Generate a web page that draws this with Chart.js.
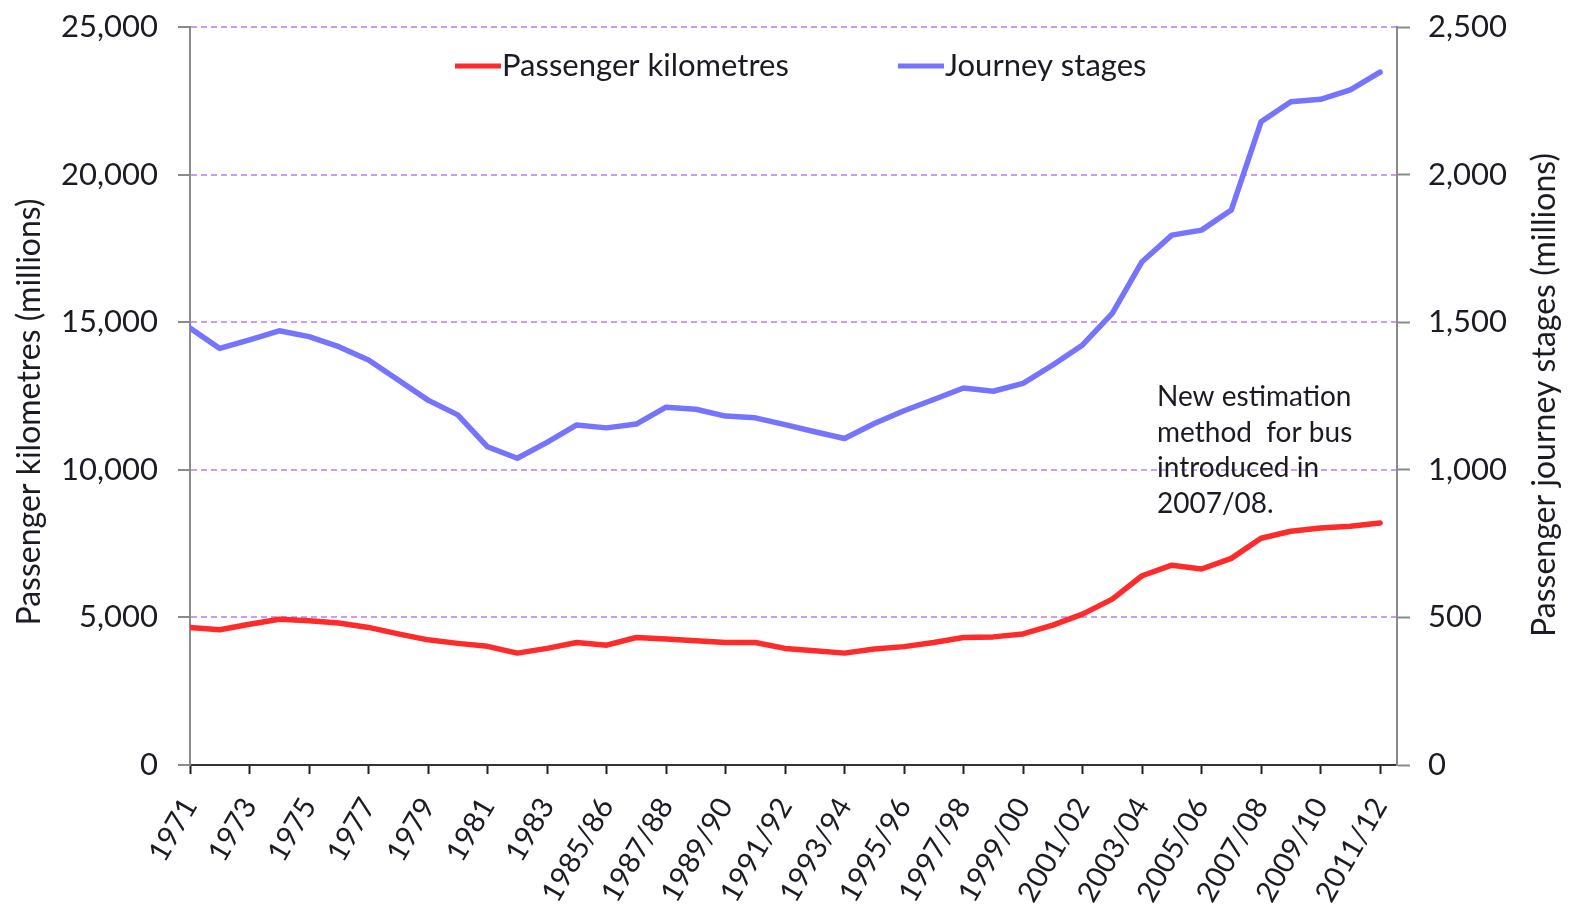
<!DOCTYPE html>
<html>
<head>
<meta charset="utf-8">
<script src="https://cdn.jsdelivr.net/npm/chart.js@4"></script>
<style>
  html, body { margin: 0; padding: 0; background: #fff; }
  #wrap { width: 1571px; height: 914px; }
</style>
</head>
<body>
<div id="wrap"><canvas id="c" width="1571" height="914"></canvas></div>
<script>
"use strict";

/* bus passenger kilometres and journey stages, 1971 to 2011/12 */
const years = ["1971", "1972", "1973", "1974", "1975", "1976", "1977", "1978",
  "1979", "1980", "1981", "1982", "1983", "1984", "1985/86", "1986/87",
  "1987/88", "1988/89", "1989/90", "1990/91", "1991/92", "1992/93", "1993/94",
  "1994/95", "1995/96", "1996/97", "1997/98", "1998/99", "1999/00", "2000/01",
  "2001/02", "2002/03", "2003/04", "2004/05", "2005/06", "2006/07", "2007/08",
  "2008/09", "2009/10", "2010/11", "2011/12"];

// millions, left axis
const passengerKm = [4660, 4580, 4770, 4940, 4890, 4810, 4660, 4440, 4240,
  4120, 4020, 3790, 3950, 4150, 4060, 4320, 4270, 4210, 4150, 4150, 3950,
  3870, 3790, 3930, 4010, 4150, 4320, 4340, 4440, 4740, 5110, 5620, 6410,
  6770, 6640, 7000, 7680, 7920, 8030, 8090, 8200];

// millions, right axis
const journeyStages = [1480, 1411, 1440, 1471, 1451, 1417, 1372, 1304, 1236,
  1186, 1078, 1039, 1093, 1152, 1142, 1155, 1212, 1205, 1182, 1176, 1153,
  1129, 1106, 1157, 1200, 1238, 1277, 1266, 1293, 1355, 1423, 1530, 1705,
  1795, 1812, 1880, 2179, 2247, 2255, 2287, 2347];

const noteLines = ["New estimation", "method  for bus", "introduced in", "2007/08."];
const leftTitle = "Passenger kilometres (millions)";
const rightTitle = "Passenger journey stages (millions)";

const FONT = "Lato, 'Open Sans', sans-serif";
const INK = "#1b1b24";
const RED = "#ff2b2b", BLUE = "#7474ff";
const GRID = "#c99cf7", AXIS = "#8a8a8a";

const pts = (arr) => arr.map((v, i) => ({ x: i, y: v }));

/* legend, note and both axis titles drawn by hand, like the original */
const overlay = {
  id: "overlay",
  afterDraw(chart) {
    const c = chart.ctx;
    c.save();
    c.textBaseline = "middle";
    c.font = "31px " + FONT;
    c.fillStyle = INK;
    c.lineWidth = 5;
    const items = [[455, RED, chart.data.datasets[0].label],
                   [898, BLUE, chart.data.datasets[1].label]];
    items.forEach(([x, col, txt]) => {
      c.strokeStyle = col;
      c.beginPath(); c.moveTo(x, 66); c.lineTo(x + 46, 66); c.stroke();
      c.fillText(txt, x + 47, 66);
    });
    c.font = "28px " + FONT;
    noteLines.forEach((t, i) => c.fillText(t, 1157, 397 + i * 35.5));

    c.font = "32px " + FONT;
    c.textAlign = "center";
    [[30, 412, leftTitle], [1545, 395, rightTitle]].forEach(([x, y, t]) => {
      c.save(); c.translate(x, y); c.rotate(-Math.PI / 2);
      c.fillText(t, 0, 0); c.restore();
    });
    c.restore();
  },
};

// no label overhang: the plot box is placed by layout padding alone
const fitY = (w) => (s) => { s.width = w; s.paddingTop = 0; s.paddingBottom = 0; };

new Chart(document.getElementById("c"), {
  type: "line",
  data: {
    datasets: [
      { label: "Passenger kilometres", data: pts(passengerKm), yAxisID: "y",
        borderColor: RED, borderWidth: 5.5, pointRadius: 0, tension: 0,
        borderJoinStyle: "round", borderCapStyle: "round" },
      { label: "Journey stages", data: pts(journeyStages), yAxisID: "y1",
        borderColor: BLUE, borderWidth: 5.5, pointRadius: 0, tension: 0,
        borderJoinStyle: "round", borderCapStyle: "round" },
    ],
  },
  options: {
    responsive: false,
    animation: false,
    devicePixelRatio: 1,
    layout: { padding: { top: 27, left: 0, right: 0, bottom: 0 } },
    plugins: { legend: { display: false }, tooltip: { enabled: false } },
    scales: {
      x: {
        type: "linear", min: 0, max: 40.57,
        afterBuildTicks: (s) => {
          s.ticks = years.map((_, i) => ({ value: i })).filter((t) => t.value % 2 === 0);
        },
        afterFit: (s) => { s.height = 149; s.paddingLeft = 0; s.paddingRight = 0; },
        ticks: {
          autoSkip: false, maxRotation: 60, minRotation: 60, padding: 18,
          color: INK, font: { family: FONT, size: 29 },
          callback: (v) => years[v],
        },
        grid: { drawOnChartArea: false, drawTicks: true, tickLength: 9,
                tickColor: "#222", tickWidth: 2 },
        border: { display: true, color: "#333", width: 2 },
      },
      y: {
        position: "left", min: 0, max: 25000,
        afterFit: fitY(190),
        ticks: { stepSize: 5000, padding: 20, color: INK,
                 font: { family: FONT, size: 31 },
                 callback: (v) => v.toLocaleString("en-GB") },
        grid: { color: (ctx) => ctx.tick && ctx.tick.value === 0 ? "rgba(0,0,0,0)" : GRID,
                lineWidth: 2, drawTicks: true, tickLength: 12,
                tickColor: AXIS, tickWidth: 2, tickBorderDash: [] },
        border: { display: true, color: AXIS, width: 2, dash: [6, 4] },
      },
      y1: {
        position: "right", min: 0, max: 2500,
        afterFit: fitY(174),
        ticks: { stepSize: 500, padding: 18, color: INK,
                 font: { family: FONT, size: 31 },
                 callback: (v) => v.toLocaleString("en-GB") },
        grid: { drawOnChartArea: false, drawTicks: true, tickLength: 13,
                tickColor: AXIS, tickWidth: 2 },
        border: { display: true, color: AXIS, width: 2 },
      },
    },
  },
  plugins: [overlay],
});
</script>
</body>
</html>
